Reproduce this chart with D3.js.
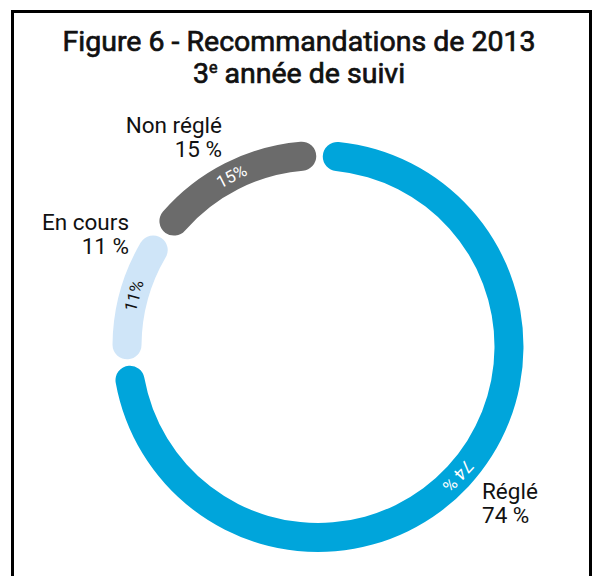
<!DOCTYPE html>
<html>
<head>
<meta charset="utf-8">
<script src="https://cdn.jsdelivr.net/npm/d3@7"></script>
<style>
  html, body { margin: 0; padding: 0; background: #fff; }
  svg { display: block; font-family: Roboto, "Noto Sans", sans-serif; }
</style>
</head>
<body>
<svg id="chart" width="598" height="576"></svg>
<script>
const categories = ["Réglé", "En cours", "Non réglé"];
const values = [74, 11, 15];
const innerLabels = ["74 %", "11%", "15%"];
const outerLabels = ["74 %", "11 %", "15 %"];
const colors = ["#00a5db", "#cfe5f8", "#6b6b6b"];
const innerTextColors = ["#ffffff", "#111111", "#ffffff"];

const svg = d3.select("#chart");

// frame
svg.append("rect")
  .attr("x", 12.5).attr("y", 11.5)
  .attr("width", 578).attr("height", 600)
  .attr("fill", "none").attr("stroke", "#000").attr("stroke-width", 3);

// title
const titleStyle = sel => sel
  .attr("text-anchor", "middle")
  .attr("font-size", 28.5).attr("font-weight", 400).attr("fill", "#111")
  .attr("stroke", "#111").attr("stroke-width", 0.7);
svg.append("text").call(titleStyle)
  .attr("x", 299).attr("y", 51).text("Figure 6 - Recommandations de 2013");
const t2 = svg.append("text").call(titleStyle).attr("x", 299).attr("y", 83);
t2.append("tspan").text("3");
t2.append("tspan").attr("font-size", 16).attr("dy", -10).text("e");
t2.append("tspan").attr("dy", 10).text(" année de suivi");

// donut
const cx = 318, cy = 346.5;
const rOuter = 205.5, rInner = 176.5;
const g = svg.append("g").attr("transform", `translate(${cx},${cy})`);

const pie = d3.pie().sort(null).value(d => d.v).padAngle(0.024).startAngle(0.008).endAngle(2 * Math.PI + 0.008);
const data = categories.map((c, i) => ({ c, v: values[i], i }));
const arcs = pie(data);
const arc = d3.arc().innerRadius(rInner).outerRadius(rOuter).cornerRadius((rOuter - rInner) / 2);

g.selectAll("path.slice").data(arcs).join("path")
  .attr("class", "slice")
  .attr("d", arc)
  .attr("fill", d => colors[d.data.i]);

// inner labels along arc
const rMid = (rOuter + rInner) / 2;
g.selectAll("text.inner").data(arcs).join("text")
  .attr("class", "inner")
  .attr("transform", d => {
    const a = (d.startAngle + d.endAngle) / 2;
    const x = rMid * Math.sin(a), y = -rMid * Math.cos(a);
    let deg = a * 180 / Math.PI;
    if (deg > 180) deg -= 360;
    return `translate(${x},${y}) rotate(${deg})`;
  })
  .attr("text-anchor", "middle")
  .attr("dominant-baseline", "central")
  .attr("font-size", 17)
  .attr("font-weight", 400)
  .attr("fill", d => innerTextColors[d.data.i])
  .text(d => innerLabels[d.data.i]);

// outer labels
const outerPos = [
  { x: 482, y: 499, anchor: "start" },
  { x: 129, y: 230, anchor: "end" },
  { x: 222, y: 132.5, anchor: "end" }
];
data.forEach((d, i) => {
  const p = outerPos[i];
  [d.c, outerLabels[i]].forEach((line, k) => {
    svg.append("text")
      .attr("text-anchor", p.anchor)
      .attr("font-size", 22.5).attr("fill", "#111")
      .attr("x", p.x).attr("y", p.y + k * 24)
      .text(line);
  });
});
</script>
</body>
</html>
